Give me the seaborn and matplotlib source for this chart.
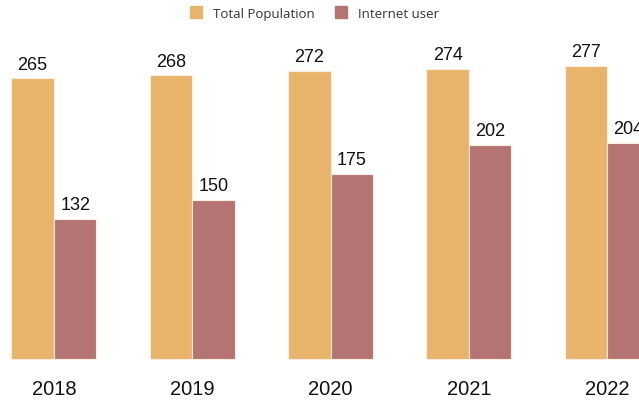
import pandas as pd
import matplotlib.pyplot as plt
import seaborn as sns
from matplotlib.lines import Line2D

YEARS = ["2018", "2019", "2020", "2021", "2022"]
TOTAL_POPULATION = [265, 268, 272, 274, 277]
INTERNET_USERS = [132, 150, 175, 202, 204]
SERIES_NAMES = ["Total Population", "Internet user"]
SERIES_COLORS = ["#E8B46B", "#B37473"]

sns.set_theme(style="white")
plt.rcParams["font.family"] = ["Liberation Sans", "DejaVu Sans"]

df = pd.DataFrame({
    "Year": YEARS * 2,
    "Value": TOTAL_POPULATION + INTERNET_USERS,
    "Series": [SERIES_NAMES[0]] * len(YEARS) + [SERIES_NAMES[1]] * len(YEARS),
})

fig = plt.figure(figsize=(6.39, 4.02), dpi=100)
ax = fig.add_axes([0, 0, 1, 1])

sns.barplot(
    data=df, x="Year", y="Value", hue="Series",
    palette=SERIES_COLORS, saturation=1, width=0.615, gap=0.0,
    edgecolor="#fbeee0", linewidth=0.8, legend=False, ax=ax,
)

for container in ax.containers:
    ax.bar_label(container, padding=4, fontsize=13, color="#111111")

ax.set_xlim(-0.39, 4.23)
ax.set_ylim(-40, 340)
ax.axis("off")

for i, year in enumerate(YEARS):
    ax.text(i, -28, year, ha="center", va="center", fontsize=14.5, color="#111111")

handles = [
    Line2D([0], [0], marker="s", linestyle="none", markersize=8,
           markerfacecolor=c, markeredgecolor=c)
    for c in SERIES_COLORS
]
leg = fig.legend(
    handles, SERIES_NAMES, loc="center", bbox_to_anchor=(0.487, 0.964),
    ncol=2, frameon=False, handletextpad=0.3, columnspacing=1.0,
    prop={"family": "Open Sans", "size": 9.5},
)
for t in leg.get_texts():
    t.set_color("#333333")

fig.savefig("out.png", dpi=100)
